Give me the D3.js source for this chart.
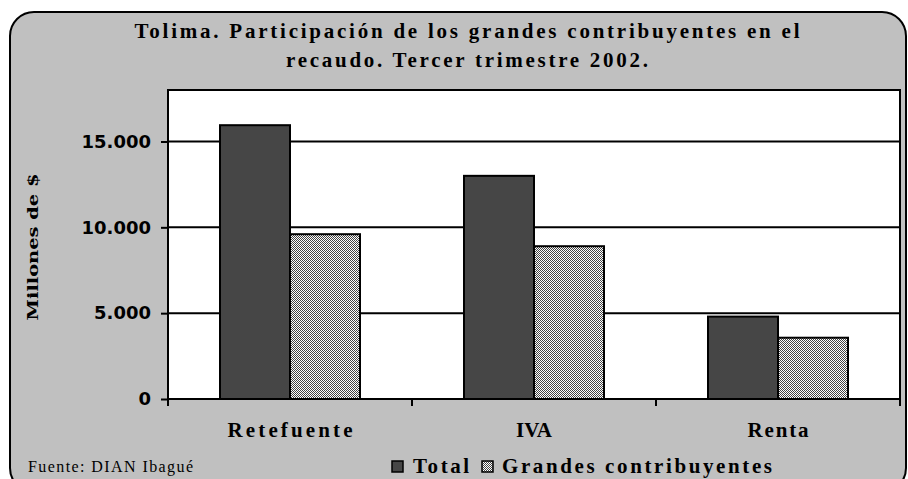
<!DOCTYPE html>
<html><head><meta charset="utf-8">
<script src="https://cdn.jsdelivr.net/npm/d3@7"></script>
<style>body{margin:0;background:#fff}svg{display:block}</style>
</head><body>
<svg id="c" width="908" height="479"></svg>
<script>
const categories = ["Retefuente", "IVA", "Renta"];
const seriesNames = ["Total", "Grandes contribuyentes"];
const totalValues = [15950, 13000, 4800];
const grandesValues = [9600, 8900, 3570];
const yTicks = [0, 5000, 10000, 15000];
const yTickLabels = ["0", "5.000", "10.000", "15.000"];
const titleLines = ["Tolima. Participación de los grandes contribuyentes en el", "recaudo. Tercer trimestre 2002."];

const svg = d3.select("#c");
const defs = svg.append("defs");
const pat = defs.append("pattern").attr("id","chk").attr("width",2).attr("height",2).attr("patternUnits","userSpaceOnUse");
pat.append("rect").attr("width",2).attr("height",2).attr("fill","#fff");
pat.append("rect").attr("width",1).attr("height",1).attr("fill","#444");
pat.append("rect").attr("x",1).attr("y",1).attr("width",1).attr("height",1).attr("fill","#444");

svg.append("rect").attr("x",10).attr("y",12).attr("width",896).attr("height",480)
  .attr("rx",24).attr("fill","#c0c0c0").attr("stroke","#000").attr("stroke-width",2);

const L=168,R=900,T=90,B=399;
const x = d3.scaleBand().domain(categories).range([L,R]);
const y = d3.scaleLinear().domain([0,18000]).range([B,T]);

svg.append("rect").attr("x",L).attr("y",T).attr("width",R-L).attr("height",B-T).attr("fill","#fff");

// grid
svg.append("g").selectAll("line").data(yTicks.filter(d=>d>0)).join("line")
  .attr("x1",L).attr("x2",R).attr("y1",d=>y(d)).attr("y2",d=>y(d))
  .attr("stroke","#000").attr("stroke-width",2);

const series = [
  {name:seriesNames[0], values:totalValues, fill:"#464646"},
  {name:seriesNames[1], values:grandesValues, fill:"url(#chk)"}
];
const bw = x.bandwidth()*70/244;
const gg = svg.append("g");
series.forEach((s,si)=>{
  gg.selectAll(null).data(categories).join("rect")
    .attr("x",(d)=>x(d)+x.bandwidth()/2 - bw + si*bw)
    .attr("y",(d,i)=>y(s.values[i]))
    .attr("width",bw)
    .attr("height",(d,i)=>B-y(s.values[i]))
    .attr("fill",s.fill).attr("stroke","#000").attr("stroke-width",2);
});

// plot border
svg.append("rect").attr("x",L).attr("y",T).attr("width",R-L).attr("height",B-T)
  .attr("fill","none").attr("stroke","#000").attr("stroke-width",2);

// y axis
const ya = svg.append("g").attr("transform",`translate(${L},0)`)
  .call(d3.axisLeft(y).tickValues(yTicks).tickSize(7).tickPadding(10).tickFormat((d,i)=>yTickLabels[i]));
ya.select(".domain").remove();
ya.selectAll(".tick line").attr("stroke","#000").attr("stroke-width",2);
ya.selectAll("text").attr("font-family","'DejaVu Sans'").attr("font-weight","bold").attr("font-size",18).attr("fill","#000");

// x axis
const catW = {"Retefuente":125, "IVA":36, "Renta":61};
const xa = svg.append("g").attr("transform",`translate(0,${B})`)
  .call(d3.axisBottom(x).tickSize(0).tickPadding(23));
xa.select(".domain").attr("stroke","#000").attr("stroke-width",2).attr("d",`M${L},0H${R}`);
xa.selectAll("text").attr("font-family","'Liberation Serif'").attr("font-weight","bold").attr("font-size",21)
  .attr("fill","#000").attr("textLength",d=>catW[d]).attr("lengthAdjust","spacing");
xa.append("g").selectAll("line").data([L, ...categories.slice(1).map(c=>x(c)), R]).join("line")
  .attr("x1",d=>d).attr("x2",d=>d).attr("y1",0).attr("y2",7).attr("stroke","#000").attr("stroke-width",2);

// title
const tl = [{t:titleLines[0], y:38, w:665},{t:titleLines[1], y:67, w:362}];
svg.append("g").selectAll("text").data(tl).join("text")
  .attr("x",467).attr("y",d=>d.y).attr("text-anchor","middle")
  .attr("font-family","'Liberation Serif'").attr("font-weight","bold").attr("font-size",21)
  .attr("textLength",d=>d.w).attr("lengthAdjust","spacing")
  .text(d=>d.t);

// y title
svg.append("text").attr("transform","translate(38,247) rotate(-90)").attr("text-anchor","middle")
  .attr("font-family","'DejaVu Serif'").attr("font-weight","bold").attr("font-size",15)
  .attr("textLength",147).attr("lengthAdjust","spacingAndGlyphs")
  .text("Millones de $");

// source
svg.append("text").attr("x",28).attr("y",472).attr("font-family","'Liberation Serif'").attr("font-size",16)
  .attr("textLength",165).attr("lengthAdjust","spacing").text("Fuente: DIAN Ibagué");

// legend
const leg = svg.append("g");
const legItems = [{x:392, tx:413, w:56, s:series[0]},{x:482, tx:502, w:270, s:series[1]}];
leg.selectAll("rect").data(legItems).join("rect")
  .attr("x",d=>d.x).attr("y",461).attr("width",11).attr("height",11)
  .attr("fill",d=>d.s.fill).attr("stroke","#000").attr("stroke-width",1.5);
leg.selectAll("text").data(legItems).join("text")
  .attr("x",d=>d.tx).attr("y",473)
  .attr("font-family","'Liberation Serif'").attr("font-weight","bold").attr("font-size",21)
  .attr("textLength",d=>d.w).attr("lengthAdjust","spacing")
  .text(d=>d.s.name);
</script>
</body></html>
